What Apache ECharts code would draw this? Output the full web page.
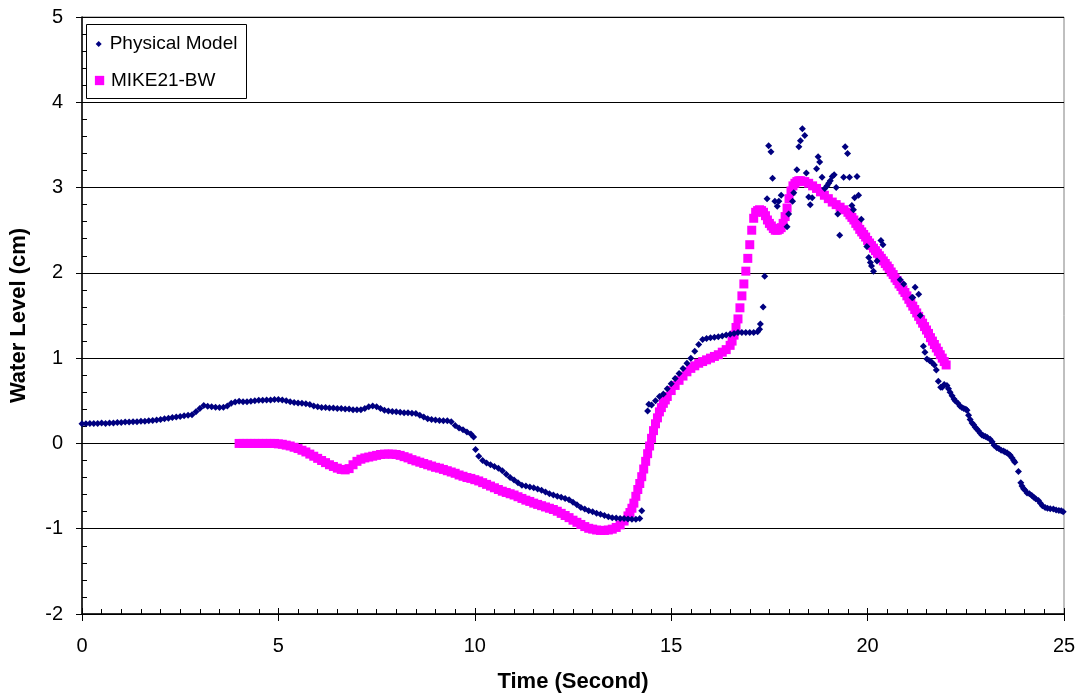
<!DOCTYPE html>
<html>
<head>
<meta charset="utf-8">
<script src="https://cdn.jsdelivr.net/npm/echarts@6/dist/echarts.min.js"></script>
<style>
html,body{margin:0;padding:0;background:#fff;}
#chart{width:1080px;height:698px;}
</style>
</head>
<body>
<div id="chart"></div>
<script>
// ---- Data (time in seconds, water level in cm) ----
const physicalModel = [
[0,0.23],[0.1,0.23],[0.2,0.235],[0.3,0.235],[0.4,0.235],[0.5,0.24],[0.6,0.235],[0.7,0.24],[0.8,0.24],[0.9,0.245],
[1,0.245],[1.1,0.25],[1.2,0.25],[1.3,0.255],[1.4,0.255],[1.5,0.26],[1.6,0.26],[1.7,0.265],[1.8,0.27],[1.9,0.275],
[2,0.28],[2.1,0.29],[2.2,0.295],[2.3,0.305],[2.4,0.31],[2.5,0.315],[2.6,0.325],[2.7,0.33],[2.8,0.335],[2.9,0.37],
[3,0.41],[3.1,0.445],[3.2,0.435],[3.3,0.43],[3.4,0.425],[3.5,0.42],[3.6,0.425],[3.7,0.44],[3.8,0.47],[3.9,0.485],
[4,0.495],[4.1,0.49],[4.2,0.49],[4.3,0.495],[4.4,0.5],[4.5,0.505],[4.6,0.505],[4.7,0.51],[4.8,0.51],[4.9,0.515],
[5,0.515],[5.1,0.51],[5.2,0.5],[5.3,0.49],[5.4,0.48],[5.5,0.475],[5.6,0.47],[5.7,0.465],[5.8,0.455],[5.9,0.44],
[6,0.43],[6.1,0.42],[6.2,0.42],[6.3,0.415],[6.4,0.415],[6.5,0.41],[6.6,0.41],[6.7,0.405],[6.8,0.405],[6.9,0.395],
[7,0.395],[7.1,0.395],[7.2,0.41],[7.3,0.43],[7.4,0.44],[7.5,0.43],[7.6,0.41],[7.7,0.39],[7.8,0.38],[7.9,0.375],
[8,0.37],[8.1,0.365],[8.2,0.36],[8.3,0.36],[8.4,0.355],[8.5,0.35],[8.6,0.33],[8.7,0.31],[8.8,0.29],[8.9,0.28],
[9,0.275],[9.1,0.27],[9.2,0.265],[9.3,0.265],[9.4,0.255],[9.5,0.21],[9.6,0.18],[9.7,0.16],[9.8,0.135],[9.9,0.11],[9.97,0.075],
[10.02,-0.07],[10.1,-0.15],[10.2,-0.2],[10.3,-0.23],[10.4,-0.25],[10.5,-0.27],[10.6,-0.29],[10.7,-0.32],[10.8,-0.36],[10.9,-0.4],
[11,-0.43],[11.1,-0.46],[11.2,-0.49],[11.3,-0.5],[11.4,-0.51],[11.5,-0.52],[11.6,-0.535],[11.7,-0.55],[11.8,-0.57],[11.9,-0.59],
[12,-0.605],[12.1,-0.62],[12.2,-0.63],[12.3,-0.645],[12.4,-0.66],[12.5,-0.69],[12.6,-0.72],[12.7,-0.75],[12.8,-0.77],[12.9,-0.79],
[13,-0.8],[13.1,-0.82],[13.2,-0.83],[13.3,-0.845],[13.4,-0.86],[13.5,-0.87],[13.6,-0.875],[13.7,-0.88],[13.8,-0.88],[13.9,-0.885],
[14,-0.89],[14.1,-0.89],[14.2,-0.88],[14.25,-0.79],
[14.4,0.38],[14.43,0.46],[14.5,0.45],[14.6,0.5],[14.7,0.55],[14.8,0.58],[14.9,0.64],[15,0.7],[15.1,0.76],[15.2,0.82],
[15.3,0.88],[15.4,0.94],[15.5,1.0],[15.6,1.08],[15.7,1.16],[15.8,1.22],[15.9,1.23],[16,1.24],[16.1,1.245],[16.2,1.25],
[16.3,1.26],[16.4,1.27],[16.5,1.28],[16.6,1.29],[16.7,1.3],[16.8,1.3],[16.9,1.3],[17,1.3],[17.1,1.3],[17.2,1.31],[17.25,1.34],
[17.27,1.4],[17.34,1.6],[17.38,1.96],[17.44,2.87],[17.48,3.49],[17.54,3.42],[17.58,3.11],[17.64,2.84],[17.7,2.78],[17.74,2.84],
[17.8,2.91],[17.95,2.54],[17.99,2.69],[18.09,2.84],[18.12,2.94],[18.2,3.21],[18.25,3.48],[18.29,3.55],[18.34,3.69],[18.4,3.61],
[18.44,3.17],[18.5,2.89],[18.54,2.8],[18.59,2.88],[18.7,3.22],[18.74,3.36],[18.78,3.3],[18.84,3.12],[18.91,2.99],[18.97,3.02],
[19.01,3.05],[19.05,3.08],[19.1,3.13],[19.15,3.15],[19.2,3.0],[19.24,2.69],[19.29,2.44],[19.39,3.12],[19.43,3.48],[19.49,3.4],
[19.54,3.12],[19.6,2.79],[19.64,2.74],[19.67,2.88],[19.73,3.13],[19.77,2.91],[19.84,2.63],[19.98,2.31],[20.03,2.18],[20.07,2.12],
[20.1,2.08],[20.15,2.02],[20.24,2.14],[20.34,2.38],[20.39,2.33],[20.83,1.92],[20.92,1.87],[21.13,1.71],[21.15,1.71],[21.21,1.83],
[21.3,1.75],[21.34,1.5],[21.42,1.14],[21.46,1.07],[21.51,0.99],[21.58,0.97],[21.64,0.95],[21.7,0.92],[21.75,0.86],[21.8,0.73],
[21.86,0.66],[21.9,0.66],[21.95,0.69],[22.02,0.68],[22.06,0.64],[22.1,0.6],[22.15,0.56],[22.2,0.52],[22.23,0.5],[22.3,0.47],
[22.35,0.44],[22.4,0.42],[22.45,0.41],[22.5,0.4],[22.53,0.39],[22.57,0.33],[22.61,0.28],[22.66,0.24],[22.7,0.22],[22.74,0.19],
[22.78,0.17],[22.82,0.15],[22.87,0.12],[22.91,0.1],[22.95,0.09],[23,0.08],[23.05,0.07],[23.12,0.05],[23.17,0.02],[23.22,-0.02],
[23.29,-0.05],[23.34,-0.06],[23.4,-0.08],[23.46,-0.09],[23.5,-0.1],[23.55,-0.11],[23.6,-0.13],[23.63,-0.14],[23.68,-0.17],[23.72,-0.2],
[23.75,-0.22],[23.84,-0.33],[23.9,-0.46],[23.93,-0.5],[23.97,-0.53],[24.01,-0.55],[24.06,-0.58],[24.12,-0.59],[24.18,-0.61],[24.23,-0.63],
[24.28,-0.65],[24.35,-0.67],[24.4,-0.7],[24.45,-0.73],[24.52,-0.75],[24.58,-0.76],[24.65,-0.765],[24.73,-0.77],[24.8,-0.78],[24.87,-0.785],
[24.93,-0.79],[24.98,-0.8]
];

const mike21bw = [
[4,0],[4.1,0],[4.2,0],[4.3,0],[4.4,0],[4.5,0],[4.6,0],[4.7,0],[4.8,0],[4.9,0],
[5,-0.005],[5.1,-0.01],[5.2,-0.02],[5.3,-0.03],[5.4,-0.045],[5.5,-0.06],[5.6,-0.08],[5.7,-0.1],[5.8,-0.125],[5.9,-0.15],
[6,-0.175],[6.1,-0.2],[6.2,-0.225],[6.3,-0.25],[6.4,-0.27],[6.5,-0.29],[6.6,-0.305],[6.7,-0.31],[6.8,-0.295],[6.9,-0.25],
[7,-0.21],[7.1,-0.185],[7.2,-0.17],[7.3,-0.16],[7.4,-0.15],[7.5,-0.14],[7.6,-0.13],[7.7,-0.125],[7.8,-0.125],[7.9,-0.125],
[8,-0.13],[8.1,-0.14],[8.2,-0.155],[8.3,-0.17],[8.4,-0.19],[8.5,-0.205],[8.6,-0.22],[8.7,-0.235],[8.8,-0.25],[8.9,-0.265],
[9,-0.28],[9.1,-0.29],[9.2,-0.305],[9.3,-0.32],[9.4,-0.335],[9.5,-0.35],[9.6,-0.37],[9.7,-0.385],[9.8,-0.4],[9.9,-0.41],
[10,-0.425],[10.1,-0.44],[10.2,-0.46],[10.3,-0.48],[10.4,-0.5],[10.5,-0.52],[10.6,-0.54],[10.7,-0.56],[10.8,-0.575],[10.9,-0.59],
[11,-0.605],[11.1,-0.625],[11.2,-0.645],[11.3,-0.665],[11.4,-0.68],[11.5,-0.7],[11.6,-0.715],[11.7,-0.73],[11.8,-0.745],[11.9,-0.76],
[12,-0.775],[12.1,-0.795],[12.2,-0.82],[12.3,-0.845],[12.4,-0.87],[12.5,-0.9],[12.6,-0.925],[12.7,-0.95],[12.8,-0.975],[12.9,-0.995],
[13,-1.005],[13.1,-1.015],[13.2,-1.02],[13.3,-1.02],[13.4,-1.015],[13.5,-1.005],[13.6,-0.985],[13.7,-0.955],[13.8,-0.91],[13.9,-0.85],
[13.95,-0.81],[14,-0.76],[14.05,-0.7],[14.1,-0.62],[14.15,-0.54],[14.2,-0.47],[14.25,-0.39],[14.3,-0.3],[14.35,-0.21],[14.4,-0.12],
[14.45,-0.03],[14.5,0.06],[14.55,0.15],[14.6,0.23],[14.65,0.3],[14.7,0.37],[14.75,0.42],[14.8,0.47],[14.85,0.51],[14.9,0.55],
[15,0.62],[15.1,0.68],[15.2,0.74],[15.3,0.79],[15.4,0.84],[15.5,0.88],[15.6,0.91],[15.7,0.94],[15.8,0.96],[15.9,0.98],
[16,1.0],[16.1,1.02],[16.2,1.04],[16.3,1.07],[16.4,1.1],[16.5,1.15],[16.55,1.2],[16.6,1.27],[16.65,1.36],[16.7,1.46],
[16.75,1.59],[16.8,1.73],[16.85,1.87],[16.9,2.02],[16.95,2.17],[17,2.33],[17.05,2.5],[17.1,2.64],[17.15,2.71],[17.2,2.73],
[17.25,2.74],[17.3,2.73],[17.35,2.71],[17.4,2.67],[17.45,2.62],[17.5,2.58],[17.55,2.55],[17.6,2.52],[17.65,2.5],[17.7,2.5],
[17.75,2.51],[17.8,2.53],[17.85,2.58],[17.9,2.66],[17.95,2.76],[18,2.87],[18.05,2.96],[18.1,3.02],[18.15,3.05],[18.2,3.07],
[18.25,3.08],[18.3,3.08],[18.4,3.07],[18.5,3.05],[18.6,3.02],[18.7,2.99],[18.8,2.95],[18.9,2.91],[19,2.87],[19.1,2.83],
[19.2,2.8],[19.3,2.77],[19.4,2.74],[19.5,2.71],[19.55,2.68],[19.6,2.65],[19.65,2.62],[19.7,2.58],[19.75,2.55],[19.8,2.51],
[19.85,2.48],[19.9,2.45],[19.95,2.42],[20,2.38],[20.05,2.35],[20.1,2.32],[20.15,2.29],[20.2,2.26],[20.25,2.23],[20.3,2.2],
[20.35,2.17],[20.4,2.14],[20.45,2.11],[20.5,2.08],[20.55,2.05],[20.6,2.01],[20.65,1.98],[20.7,1.94],[20.75,1.91],[20.8,1.87],
[20.85,1.84],[20.9,1.8],[20.95,1.77],[21,1.73],[21.05,1.69],[21.1,1.65],[21.15,1.61],[21.2,1.57],[21.25,1.53],[21.3,1.49],
[21.35,1.45],[21.4,1.41],[21.45,1.37],[21.5,1.33],[21.55,1.29],[21.6,1.24],[21.65,1.2],[21.7,1.16],[21.75,1.12],[21.8,1.08],
[21.85,1.04],[21.9,1.0],[21.95,0.96],[22,0.92]
];

const seriesNames = ['Physical Model', 'MIKE21-BW'];
const axisTitles = { x: 'Time (Second)', y: 'Water Level (cm)' };

// ---- Chart ----
const FONT = "'Liberation Sans', Arial, sans-serif";
const chart = echarts.init(document.getElementById('chart'), null, { renderer: 'canvas' });

const xBase = { type: 'value', min: 0, max: 25, interval: 5, gridIndex: 0, position: 'bottom' };
const yBase = { type: 'value', min: -2, max: 5, interval: 1, gridIndex: 0, position: 'left' };

const option = {
  backgroundColor: '#ffffff',
  animation: false,
  textStyle: { fontFamily: FONT },
  grid: { left: 81, right: 16, top: 17, bottom: 83, show: true, borderColor: '#808080', borderWidth: 1, backgroundColor: 'transparent' },
  xAxis: [
    Object.assign({}, xBase, {
      axisLine: { show: true, onZero: false, lineStyle: { color: '#000', width: 1.5 } },
      axisTick: { show: true, inside: false, length: 7, lineStyle: { color: '#000', width: 1 } },
      axisLabel: { margin: 22, fontSize: 20, color: '#000', fontFamily: FONT },
      splitLine: { show: false },
      name: axisTitles.x, nameLocation: 'middle', nameGap: 57,
      nameTextStyle: { fontSize: 22, fontWeight: 'bold', color: '#000', fontFamily: FONT }
    }),
    Object.assign({}, xBase, {
      offset: 0,
      axisLine: { show: false, onZero: false },
      axisTick: { show: true, inside: true, length: 6, lineStyle: { color: '#000', width: 1 } },
      minorTick: { show: true, splitNumber: 10, length: 5, lineStyle: { color: '#000', width: 1 } },
      axisLabel: { show: false },
      splitLine: { show: false }
    })
  ],
  yAxis: [
    Object.assign({}, yBase, {
      axisLine: { show: true, onZero: false, lineStyle: { color: '#000', width: 1.5 } },
      axisTick: { show: true, inside: false, length: 6, lineStyle: { color: '#000', width: 1 } },
      axisLabel: { margin: 19, fontSize: 20, color: '#000', fontFamily: FONT },
      splitLine: { show: true, lineStyle: { color: '#000', width: 1 } },
      name: axisTitles.y, nameLocation: 'middle', nameGap: 52, nameRotate: 90,
      nameTextStyle: { fontSize: 22, fontWeight: 'bold', color: '#000', fontFamily: FONT }
    }),
    Object.assign({}, yBase, {
      offset: 0,
      axisLine: { show: false, onZero: false },
      axisTick: { show: true, inside: true, length: 5, lineStyle: { color: '#000', width: 1 } },
      minorTick: { show: true, splitNumber: 5, length: 5, lineStyle: { color: '#000', width: 1 } },
      axisLabel: { show: false },
      splitLine: { show: false }
    })
  ],
  graphic: [{
    type: 'rect', z: 3, silent: true,
    shape: { x: 86.5, y: 24.5, width: 160, height: 74 },
    style: { fill: '#ffffff', stroke: '#000000', lineWidth: 1 }
  }],
  legend: [
    {
      data: [{ name: seriesNames[0], icon: 'path://M5,0L10,5L5,10L0,5Z' }],
      left: 95.7, top: 34.5, padding: 0, z: 5,
      itemWidth: 12, itemHeight: 6, selectedMode: false,
      textStyle: { fontSize: 19, color: '#000', fontFamily: FONT }
    },
    {
      data: [{ name: seriesNames[1], icon: 'path://M0,0L10,0L10,10L0,10Z' }],
      left: 94.9, top: 71, padding: 0, z: 5,
      itemWidth: 12.8, itemHeight: 9.3, selectedMode: false,
      textStyle: { fontSize: 19, color: '#000', fontFamily: FONT }
    }
  ],
  series: [
    {
      name: seriesNames[1], type: 'scatter', xAxisIndex: 0, yAxisIndex: 0,
      symbol: 'rect', symbolSize: 9, z: 2, silent: true,
      itemStyle: { color: '#FF00FF', opacity: 1 },
      data: mike21bw
    },
    {
      name: seriesNames[0], type: 'scatter', xAxisIndex: 0, yAxisIndex: 0,
      symbol: 'diamond', symbolSize: 7, z: 2.5, silent: true,
      itemStyle: { color: '#000080', opacity: 1 },
      data: physicalModel
    }
  ]
};
chart.setOption(option);
</script>
</body>
</html>
